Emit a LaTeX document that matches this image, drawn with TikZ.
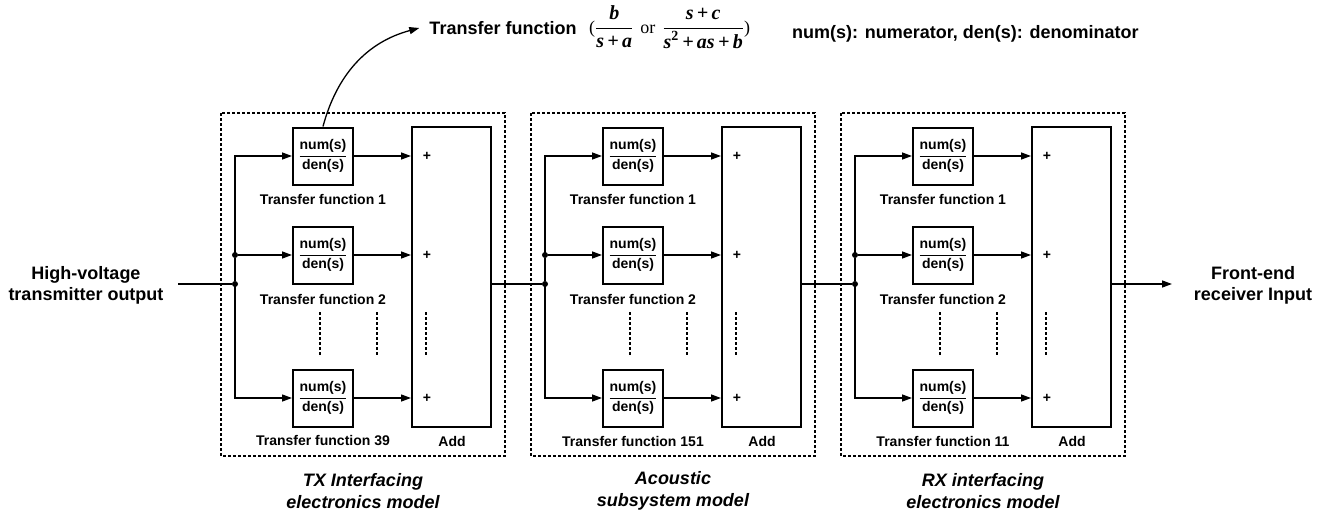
\documentclass[tikz,border=0pt]{standalone}
\usepackage{amsmath}
\usepackage{fontspec}
\setmainfont{Liberation Sans}
\newfontfamily\serif{Liberation Serif}
\usepackage{tikz}
\usetikzlibrary{arrows.meta}
\tikzstyle{tf}=[rectangle,draw=black,line width=2pt,minimum width=60pt,minimum height=57pt,inner sep=0pt,font=\fontsize{14}{15}\selectfont\bfseries]
\tikzstyle{adder}=[rectangle,draw=black,line width=2pt,minimum width=79pt,minimum height=300pt,inner sep=0pt]
\tikzstyle{modbox}=[draw=black,line width=1.5pt,dash pattern=on 3pt off 2pt]
\tikzstyle{lbl}=[font=\fontsize{14}{16}\selectfont\bfseries,inner sep=0pt]
\tikzstyle{big}=[font=\fontsize{18}{21}\selectfont\bfseries,align=center,inner sep=0pt]
\tikzstyle{modlbl}=[font=\fontsize{18}{22}\selectfont\bfseries\itshape,align=center,inner sep=0pt]
\tikzstyle{junction}=[circle,fill=black,inner sep=0pt,minimum size=6pt]
\tikzstyle{sig}=[->,>={Triangle[length=10pt,width=7pt]},line width=1.3pt]
\tikzstyle{dots}=[line width=2pt,dash pattern=on 3pt off 2pt]
\newcommand \nd {$\dfrac{\text{num(s)}}{\text{den(s)}}$}
\newcommand \fx [1]{\text{\serif\bfseries\itshape #1}}
\newcommand \sm [1]{{\fontsize{18}{20}\selectfont\serif #1}}
\tikzset{every picture/.style={
    x=1pt,y=-1pt
  }
}

\begin{document}
\begin{tikzpicture}
        \useasboundingbox (0,0) rectangle (1334,514);
        % top note
        \node[big] at (503,28) (tftext) {Transfer function};
        \node[inner sep=0pt,anchor=west,font=\fontsize{20}{22}\selectfont] at (589,27) (tfform)
          {\sm{(}$\dfrac{\fx{b}}{\fx{s\,+\,a}}$\hspace{7pt}\sm{or}\hspace{7pt}$\dfrac{\fx{s\,+\,c}}{\fx{s\textsuperscript{\upshape 2}\,+\,as\,+\,b}}$\sm{)}};
        \node[big,anchor=west] at (792,34) (legend) {num(s): numerator, den(s): denominator};
        % input and output
        \node[big] at (86,285) (hv) {High-voltage\\transmitter output};
        \node[big] at (1253,285) (fe) {Front-end\\receiver Input};
        \coordinate (hvout) at (178,284);
        \coordinate (feend) at (1172,284);
        % TX interfacing
        \draw[modbox] (221,113) rectangle (505,456);
        \node[tf] at (323,156) (tx1) {\nd};
        \node[tf] at (323,255) (tx2) {\nd};
        \node[tf] at (323,398) (tx3) {\nd};
        \node[adder] at (451.5,277) (txadd) {};
        \node[lbl] at (323,199) (txl1) {Transfer function 1};
        \node[lbl] at (323,299) (txl2) {Transfer function 2};
        \node[lbl] at (323,441) (txl3) {Transfer function 39};
        \node[lbl] at (452,441) (txal) {Add};
        \node[lbl] at (427,156) (txp1) {+};
        \node[lbl] at (427,255) (txp2) {+};
        \node[lbl] at (427,398) (txp3) {+};
        \node[junction] at (235,255) (txj1) {};
        \node[junction] at (235,284) (txj0) {};
        \node[modlbl] at (363,491) (txname) {TX Interfacing\\electronics model};
        \draw[dots] (320,312) -- (320,355);
        \draw[dots] (377,312) -- (377,355);
        \draw[dots] (426,312) -- (426,355);
        % Acoustic subsystem
        \draw[modbox] (531,113) rectangle (815,456);
        \node[tf] at (633,156) (ac1) {\nd};
        \node[tf] at (633,255) (ac2) {\nd};
        \node[tf] at (633,398) (ac3) {\nd};
        \node[adder] at (761.5,277) (acadd) {};
        \node[lbl] at (633,199) (acl1) {Transfer function 1};
        \node[lbl] at (633,299) (acl2) {Transfer function 2};
        \node[lbl] at (633,441) (acl3) {Transfer function 151};
        \node[lbl] at (762,441) (acal) {Add};
        \node[lbl] at (737,156) (acp1) {+};
        \node[lbl] at (737,255) (acp2) {+};
        \node[lbl] at (737,398) (acp3) {+};
        \node[junction] at (545,255) (acj1) {};
        \node[junction] at (545,284) (acj0) {};
        \node[modlbl] at (673,491) (acname) {Acoustic\\subsystem model};
        \draw[dots] (630,312) -- (630,355);
        \draw[dots] (687,312) -- (687,355);
        \draw[dots] (736,312) -- (736,355);
        % RX interfacing
        \draw[modbox] (841,113) rectangle (1125,456);
        \node[tf] at (943,156) (rx1) {\nd};
        \node[tf] at (943,255) (rx2) {\nd};
        \node[tf] at (943,398) (rx3) {\nd};
        \node[adder] at (1071.5,277) (rxadd) {};
        \node[lbl] at (943,199) (rxl1) {Transfer function 1};
        \node[lbl] at (943,299) (rxl2) {Transfer function 2};
        \node[lbl] at (943,441) (rxl3) {Transfer function 11};
        \node[lbl] at (1072,441) (rxal) {Add};
        \node[lbl] at (1047,156) (rxp1) {+};
        \node[lbl] at (1047,255) (rxp2) {+};
        \node[lbl] at (1047,398) (rxp3) {+};
        \node[junction] at (855,255) (rxj1) {};
        \node[junction] at (855,284) (rxj0) {};
        \node[modlbl] at (983,491) (rxname) {RX interfacing\\electronics model};
        \draw[dots] (940,312) -- (940,355);
        \draw[dots] (997,312) -- (997,355);
        \draw[dots] (1046,312) -- (1046,355);
        % connections
        \draw[sig] (tx1.north) to[out=75,in=195] ([xshift=-10pt]tftext.west);
        \draw[line width=1.3pt] (hvout) -- (txj0);
        \draw[line width=1.3pt] (txj1) -- (txj0);
        \draw[sig] (txj1.center) |- (tx1);
        \draw[sig] (txj1) -- (tx2);
        \draw[sig] (txj0.center) |- (tx3);
        \draw[sig] (tx1) -- (tx1 -| txadd.west);
        \draw[sig] (tx2) -- (tx2 -| txadd.west);
        \draw[sig] (tx3) -- (tx3 -| txadd.west);
        \draw[line width=1.3pt] (acj0 -| txadd.east) -- (acj0);
        \draw[line width=1.3pt] (acj1) -- (acj0);
        \draw[sig] (acj1.center) |- (ac1);
        \draw[sig] (acj1) -- (ac2);
        \draw[sig] (acj0.center) |- (ac3);
        \draw[sig] (ac1) -- (ac1 -| acadd.west);
        \draw[sig] (ac2) -- (ac2 -| acadd.west);
        \draw[sig] (ac3) -- (ac3 -| acadd.west);
        \draw[line width=1.3pt] (rxj0 -| acadd.east) -- (rxj0);
        \draw[line width=1.3pt] (rxj1) -- (rxj0);
        \draw[sig] (rxj1.center) |- (rx1);
        \draw[sig] (rxj1) -- (rx2);
        \draw[sig] (rxj0.center) |- (rx3);
        \draw[sig] (rx1) -- (rx1 -| rxadd.west);
        \draw[sig] (rx2) -- (rx2 -| rxadd.west);
        \draw[sig] (rx3) -- (rx3 -| rxadd.west);
        \draw[sig] (rxj0 -| rxadd.east) -- (feend);
      \end{tikzpicture}
\end{document}
